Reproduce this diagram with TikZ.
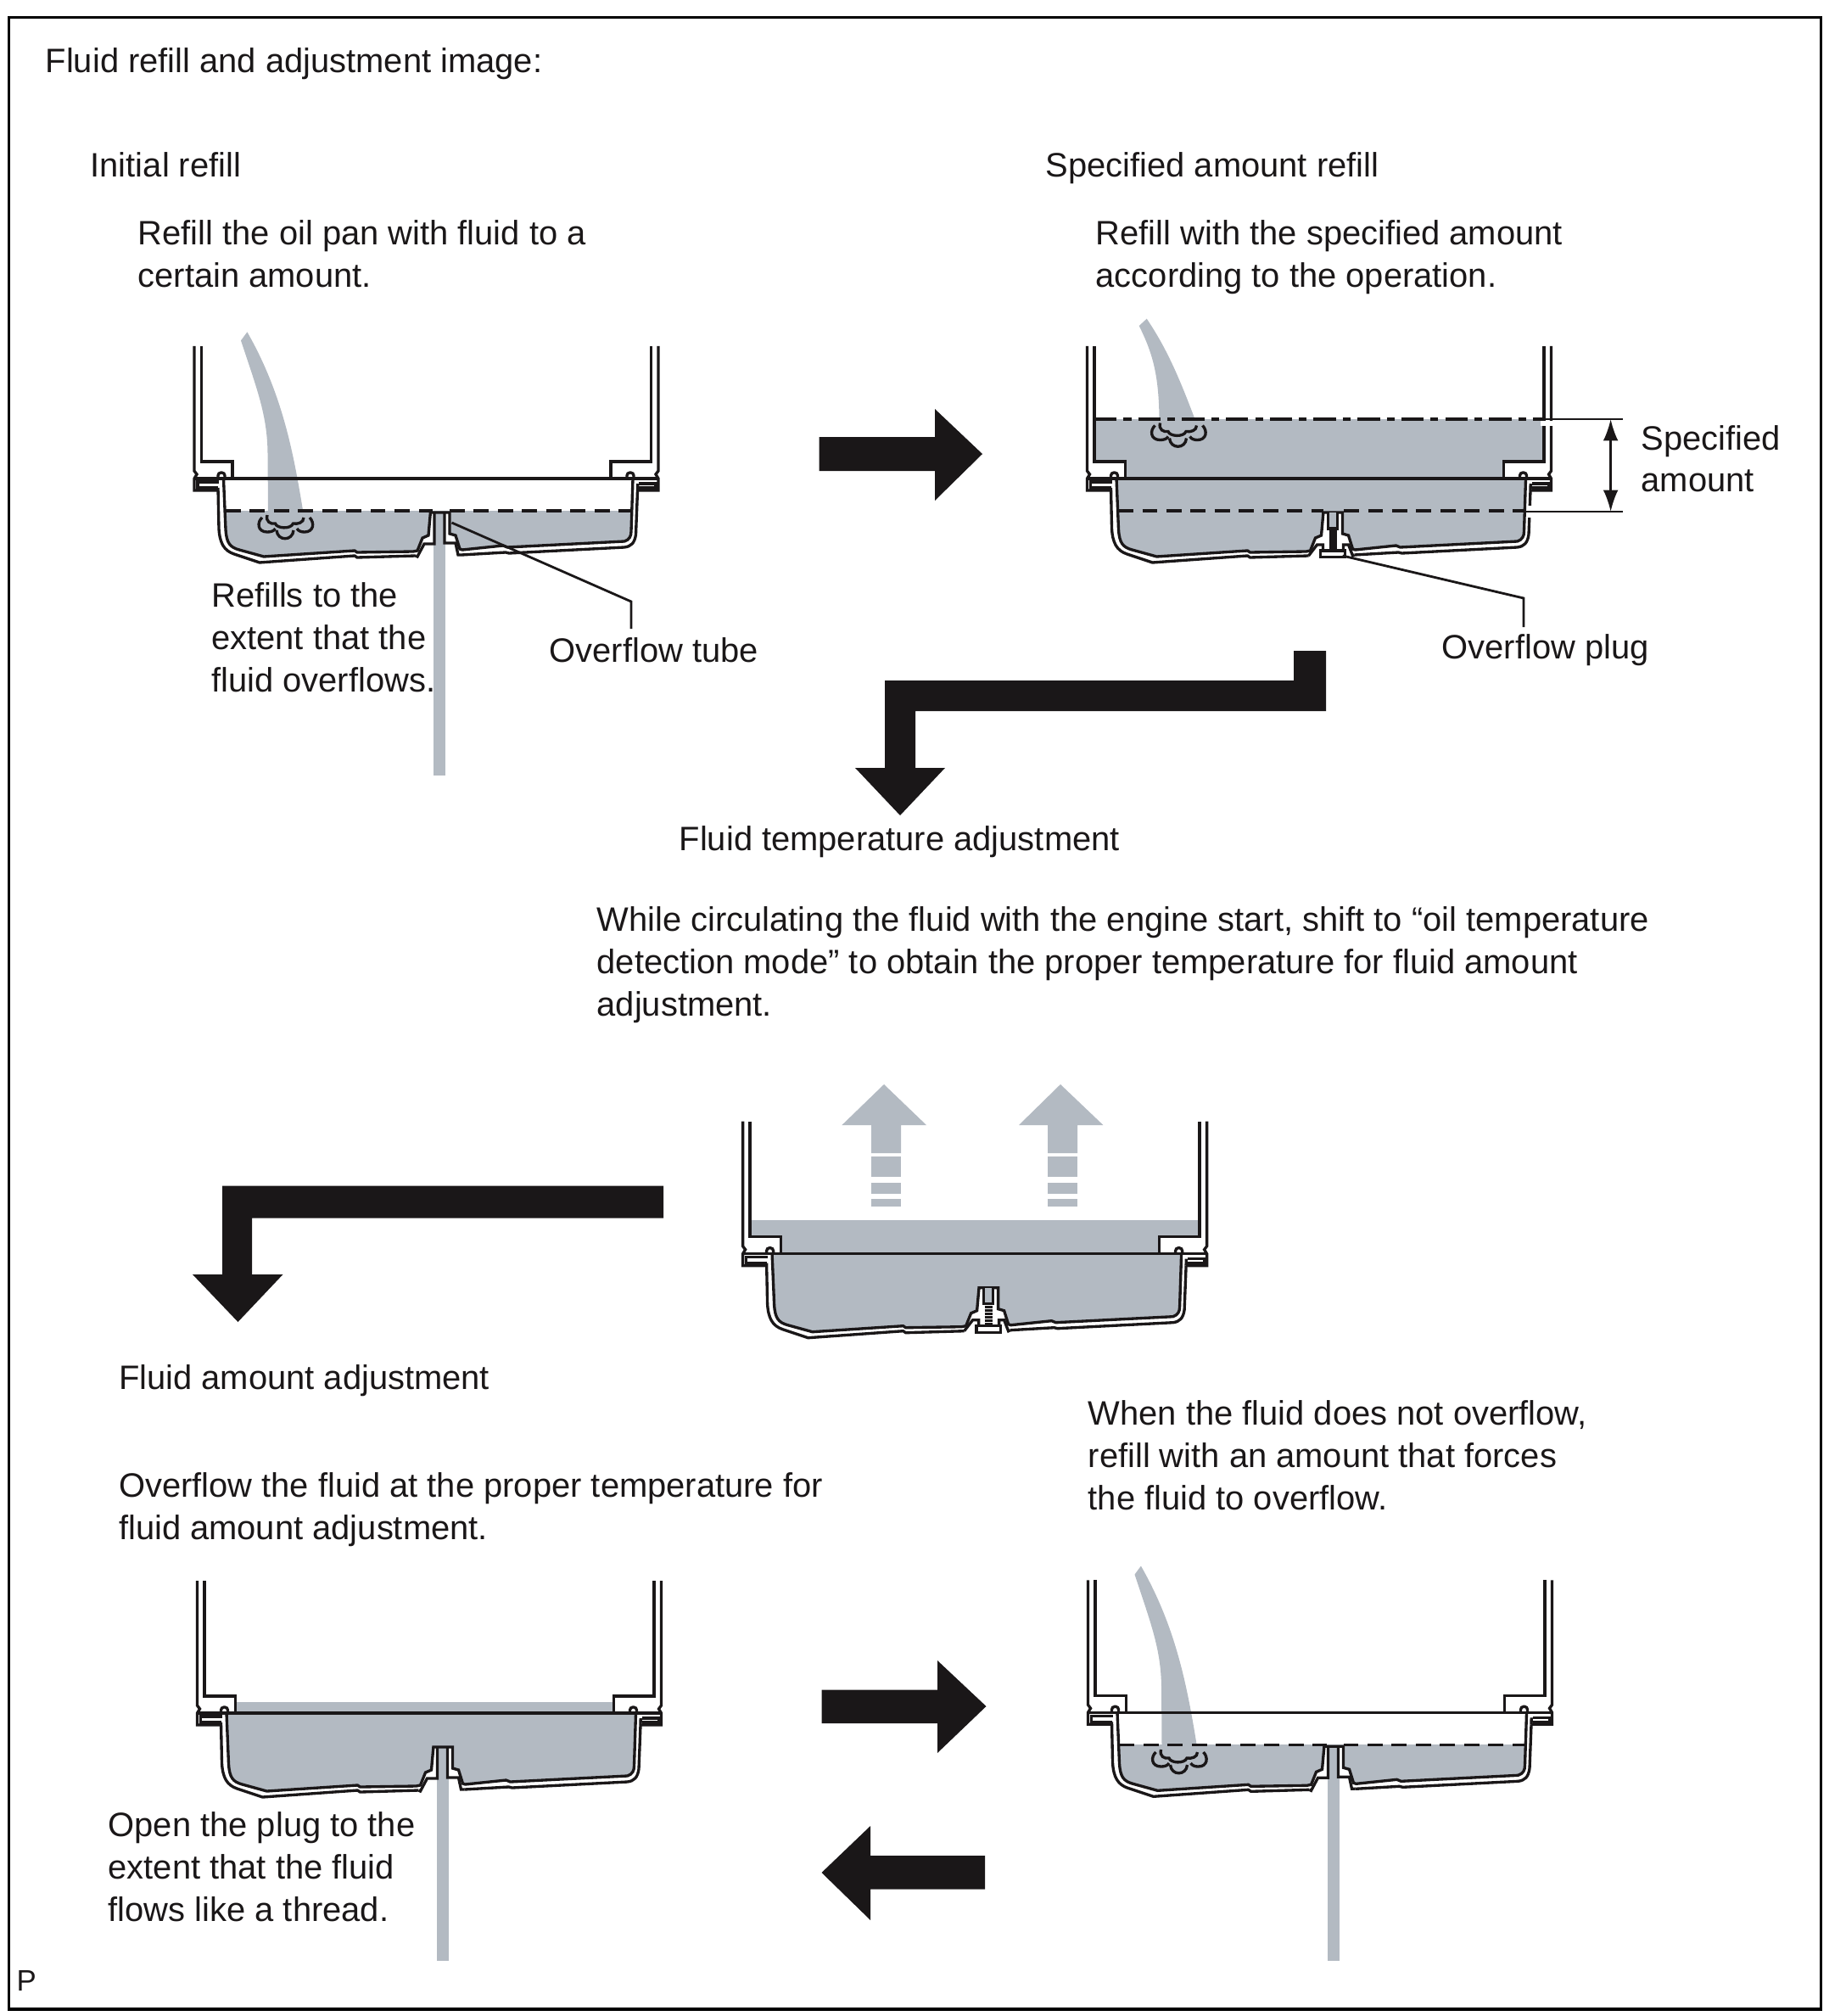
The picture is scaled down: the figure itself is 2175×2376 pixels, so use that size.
\documentclass[tikz,border=0pt]{standalone}
\usepackage{fontspec}
\setmainfont{Liberation Sans}
\usetikzlibrary{arrows.meta}
\definecolor{fluidgray}{HTML}{B3BAC2}
\definecolor{inkblack}{HTML}{1A1718}
\tikzset{
    txt/.style={anchor=north west, inner sep=0pt, align=left, text=inkblack, font=\fontsize{11.35}{14.15}\selectfont},
    outline/.style={draw=inkblack, line width=0.95pt, line join=miter},
    fluid/.style={fill=fluidgray, draw=none},
    blockarrow/.style={fill=inkblack, draw=none},
    level/.style={draw=inkblack, line width=1pt, dash pattern=on 5pt off 3.1pt},
    topline/.style={draw=inkblack, line width=1.05pt, dash pattern=on 7.5pt off 2.3pt on 2.6pt off 2.3pt},
    leader/.style={draw=inkblack, line width=0.8pt},
    dimarrow/.style={{Latex[length=7.2pt,width=5pt]}-{Latex[length=7.2pt,width=5pt]}, draw=inkblack, line width=0.7pt},
    pics/panfluid/.style={code={
        \begin{scope}
            \clip (-300,#1) rectangle (300,120);
            \fill[fluid] (-254.5,0) -- (-252,60) .. controls (-251,76) and (-247,81) .. (-236,84) -- (-207,92) -- (-100,85) -- (-97,87) -- (-31,86) -- (-26,85) -- (-20,70) -- (-13,67) -- (-10.6,40) -- (12,40) -- (12,65) -- (19,67) -- (24,83) -- (27,84) -- (75,79) -- (80,81) -- (218,74) .. controls (224,72) and (226,68) .. (226,62) -- (228,0) -- (202,0) -- (202,-20) -- (249.5,-20) -- (249.5,-156) -- (-280.5,-156) -- (-280.5,-20) -- (-244,-20) -- (-244,0) -- cycle;
        \end{scope}
    }},
    pics/pancasing/.style={code={
        % housing walls
        \draw[outline] (-280.5,-156) -- (-280.5,-20) -- (-244,-20) -- (-244,0);
        \draw[outline] (249.5,-156) -- (249.5,-20) -- (202,-20) -- (202,0);
        \draw[outline] (-289,-156) -- (-289,-9) -- (-286,-5) -- (-289,0) -- (-289,14) -- (-261,14);
        \draw[outline] (258,-156) -- (258,-9) -- (255,-5) -- (258,0) -- (258,14) -- (233.5,14);
        \draw[outline] (-289,0) -- (258,0);
        % flange channels and gaskets
        \draw[outline] (-260,4) -- (-285,4) -- (-285,11) -- (-261,11);
        \draw[outline] (235,6) -- (255,6) -- (255,11) -- (235,11);
        \draw[outline, rounded corners=1pt] (-261,0) -- (-261,-7) -- (-253,-7) -- (-253,0);
        \draw[outline, rounded corners=1pt] (221,0) -- (221,-7) -- (229,-7) -- (229,0);
        % pan inner and outer skins
        \draw[outline] (-254.5,0) -- (-252,60) .. controls (-251,76) and (-247,81) .. (-236,84) -- (-207,92) -- (-100,85) -- (-97,87) -- (-31,86) -- (-26,85) -- (-20,70) -- (-13,67) -- (-10.6,40) -- (12,40) -- (12,65) -- (19,67) -- (24,83) -- (27,84) -- (75,79) -- (80,81) -- (218,74) .. controls (224,72) and (226,68) .. (226,62) -- (228,0);
        \draw[outline] (-261,11) -- (-260,59) .. controls (-259,76) and (-254,85) .. (-242,89) -- (-212,99) -- (-100,91) -- (-97,93) -- (-28,91);
        \draw[outline] (233.7,6) -- (233.5,14);
        \draw[outline] (233.5,14) -- (231.5,66) .. controls (230,76) and (226,80) .. (218,81) -- (82,88) -- (78,87) -- (26,90);
    }},
    pics/tubeopen/.style={code={
        \fill[fluid] (-7,40) rectangle (7,#1);
        \draw[outline] (-28,91) -- (-26,92) -- (-18,77) -- (-6,77) -- (-6,40);
        \draw[outline] (6,40) -- (6,76) -- (19,76) -- (22,90) -- (26,90);
    }},
    pics/tubeplug/.style={code={
        \fill[fluid] (-5,40) rectangle (6,59);
        \draw[outline] (-5,40) -- (-5,59) -- (6,59) -- (6,40);
        \draw[outline] (-28,91) -- (-18,78) -- (-11,78) -- (-11,85);
        \draw[outline] (13,85) -- (13,78) -- (19,78) -- (24,91) -- (26,90);
        \draw[outline, fill=white] (-13.7,85) rectangle (14.7,92.7);
        \foreach \ty in {63,67,71,75,79,83} {
            \draw[outline] (-4,\ty) -- (5,\ty);
        }
    }},
    pics/bubbles/.style={code={
        \draw[outline] (-21,-13) .. controls (-23,-5) and (-17,-2) .. (-11.5,-3) .. controls (-10,3) and (7,4) .. (9.5,-3) .. controls (15,-2) and (22,-4) .. (22,-10);
        \draw[outline] (-27,-10) .. controls (-33,-5) and (-33,7) .. (-21,7) .. controls (-17,7) and (-13,6) .. (-11.5,3);
        \draw[outline] (-10,5) .. controls (-9,18) and (9,18) .. (10,5);
        \draw[outline] (29,-10) .. controls (35,-4) and (34,7) .. (23,7) .. controls (19,7) and (16,6) .. (14,3);
    }},
    pics/pourstream/.style={code={
        \fill[fluid] (-226.6,-172.7) -- (-234,-162.7) .. controls (-215,-105) and (-203,-75) .. (-202.5,-30) -- (-202,39) -- (-160.7,39) .. controls (-172,-30) and (-185,-100) .. (-226.6,-172.7) -- cycle;
    }}
}
\begin{document}
\begin{tikzpicture}[x=0.01cm, y=-0.01cm]
\useasboundingbox (0,0) rectangle (2175,2376);
\draw[draw=black, line width=0.9pt] (10.5,20.7) rectangle (2146.7,2368);

% Headings
\node[txt] (title) at (53,56) {Fluid refill and adjustment image:};
\node[txt] (initial) at (106,179) {Initial refill};
\node[txt] (initialnote) at (162,259) {Refill the oil pan with fluid to a\\certain amount.};
\node[txt] (specified) at (1232,179) {Specified amount refill};
\node[txt] (specifiednote) at (1291,259) {Refill with the specified amount\\according to the operation.};

% Pan 1: initial refill
\pic at (518,564) {panfluid=38};
\pic at (518,564) {pourstream};
\pic at (518,564) {tubeopen=350};
\pic at (518,564) {pancasing};
\draw[level] (266,602) -- (510,602);
\draw[level] (530,602) -- (744,602);
\pic at (336,620) {bubbles};
\node[txt] (refillsnote) at (248.6,686) {Refills to the\\extent that the\\fluid overflows.};
\coordinate (tubetip) at (532.5,616);
\coordinate (tubebend) at (744,709);
\coordinate (tubeend) at (744,741);
\draw[leader] (tubetip) -- (tubebend) -- (tubeend);
\node[txt] (tubelabel) at (647,751) {Overflow tube};

% Arrow from pan 1 to pan 2
\fill[blockarrow] (965.5,515) -- (1102,515) -- (1102,482) -- (1158,535) -- (1102,590) -- (1102,555) -- (965.5,555) -- cycle;

% Pan 2: specified amount
\pic at (1570.5,564) {panfluid=-70};
\fill[fluid] (1351.7,375.7) -- (1342.7,384) .. controls (1358,415) and (1366,440) .. (1366.5,494) -- (1408.5,494) .. controls (1390,445) and (1375,410) .. (1351.7,375.7) -- cycle;
\pic at (1570.5,564) {pancasing};
\pic at (1570.5,564) {tubeplug};
\fill[white] (1816,495.5) rectangle (1832,502);
\fill[white] (1800,596) rectangle (1806,610);
\draw[topline] (1290,494) -- (1820,494);
\draw[level] (1318,602) -- (1560,602);
\draw[level] (1584,602) -- (1797,602);
\pic at (1388.5,511.5) {bubbles};
\coordinate (plugtip) at (1582.6,655);
\coordinate (plugbend) at (1796,705);
\coordinate (plugend) at (1796,739);
\draw[leader] (plugtip) -- (plugbend) -- (plugend);
\node[txt] (pluglabel) at (1699,746.5) {Overflow plug};
\coordinate (specupperl) at (1821,494);
\coordinate (specupperr) at (1913,494);
\coordinate (speclowerl) at (1799,603);
\coordinate (speclowerr) at (1913,603);
\draw[leader] (specupperl) -- (specupperr);
\draw[leader] (speclowerl) -- (speclowerr);
\coordinate (dimtop) at (1898.6,494);
\coordinate (dimbottom) at (1898.6,603);
\draw[dimarrow] (dimtop) -- (dimbottom);
\node[txt] (speclabel) at (1934,500.5) {Specified\\amount};

% Arrow down to temperature step
\fill[blockarrow] (1563,767) -- (1563,838) -- (1079,838) -- (1079,905) -- (1114,905) -- (1061,961) -- (1008,905) -- (1043,905) -- (1043,802) -- (1525,802) -- (1525,767) -- cycle;
\node[txt] (templabel) at (800,973) {Fluid temperature adjustment};
\node[txt] (tempnote) at (703,1068) {While circulating the fluid with the engine start, shift to “oil temperature\\detection mode” to obtain the proper temperature for fluid amount\\adjustment.};

% Pan 3: temperature adjustment
\pic at (1164.6,1477.7) {panfluid=-39};
\pic at (1164.6,1477.7) {pancasing};
\pic at (1164.6,1477.7) {tubeplug};
\foreach \ax/\hl/\hr/\tip/\sl/\sr in {0/992.4/1092/1042/1027/1062, 1/1201/1300.4/1250/1235/1270} {
    \fill[fluid] (\tip,1278) -- (\hr,1326) -- (\sr,1326) -- (\sr,1359) -- (\sl,1359) -- (\sl,1326) -- (\hl,1326) -- cycle;
    \fill[fluid] (\sl,1363) rectangle (\sr,1387);
    \fill[fluid] (\sl,1394) rectangle (\sr,1407);
    \fill[fluid] (\sl,1413) rectangle (\sr,1422);
}

% Arrow down to amount step
\fill[blockarrow] (782,1397.5) -- (782,1435.5) -- (297,1435.5) -- (297,1502) -- (333.5,1502) -- (280.5,1558) -- (227,1502) -- (262,1502) -- (262,1397.5) -- cycle;
\node[txt] (amountlabel) at (139.4,1607.5) {Fluid amount adjustment};
\node[txt] (amountnote) at (139.4,1735) {Overflow the fluid at the proper temperature for\\fluid amount adjustment.};
\node[txt] (whennote) at (1282,1650) {When the fluid does not overflow,\\refill with an amount that forces\\the fluid to overflow.};

% Pan 4: plug open
\pic at (521.5,2019) {panfluid=-13};
\pic at (521.5,2019) {tubeopen=292};
\pic at (521.5,2019) {pancasing};
\node[txt] (opennote) at (127,2135) {Open the plug to the\\extent that the fluid\\flows like a thread.};

% Arrows between pan 4 and pan 5
\fill[blockarrow] (968.5,1991.6) -- (1105,1991.6) -- (1105,1957) -- (1162.5,2011) -- (1105,2066) -- (1105,2031) -- (968.5,2031) -- cycle;
\fill[blockarrow] (1161,2187) -- (1026,2187) -- (1026,2152) -- (968.5,2207) -- (1026,2263) -- (1026,2226.5) -- (1161,2226.5) -- cycle;

% Pan 5: top up
\pic at (1571.5,2018.3) {panfluid=38};
\pic at (1571.5,2018.3) {pourstream};
\pic at (1571.5,2018.3) {tubeopen=293};
\pic at (1571.5,2018.3) {pancasing};
\draw[level] (1319.5,2056.3) -- (1563.5,2056.3);
\draw[level] (1583.5,2056.3) -- (1797.5,2056.3);
\pic at (1389.5,2075) {bubbles};

\node[anchor=base west, inner sep=0pt, text=inkblack, font=\fontsize{9.9}{12}\selectfont] (pmark) at (19,2346) {P};
\end{tikzpicture}
\end{document}
